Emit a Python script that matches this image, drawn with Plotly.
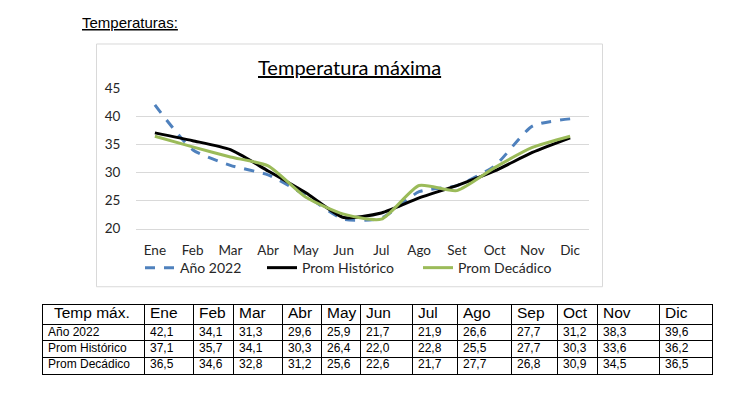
import plotly.graph_objects as go

# ---------------- data ----------------
months_chart = ["Ene", "Feb", "Mar", "Abr", "May", "Jun", "Jul", "Ago", "Set", "Oct", "Nov", "Dic"]
months_table = ["Ene", "Feb", "Mar", "Abr", "May", "Jun", "Jul", "Ago", "Sep", "Oct", "Nov", "Dic"]
ano_2022 = [42.1, 34.1, 31.3, 29.6, 25.9, 21.7, 21.9, 26.6, 27.7, 31.2, 38.3, 39.6]
prom_historico = [37.1, 35.7, 34.1, 30.3, 26.4, 22.0, 22.8, 25.5, 27.7, 30.3, 33.6, 36.2]
prom_decadico = [36.5, 34.6, 32.8, 31.2, 25.6, 22.6, 21.7, 27.7, 26.8, 30.9, 34.5, 36.5]
series_names = ["Año 2022", "Prom Histórico", "Prom Decádico"]
y_ticks = [20, 25, 30, 35, 40, 45]
table_corner = "Temp máx."
chart_title = "Temperatura máxima"
page_heading = "Temperaturas:"

# ---------------- layout constants ----------------
W, H = 739, 396
col_widths = [101, 49, 40, 49, 39, 39, 52, 45, 54, 46, 40, 62, 53]
row_heights = [21, 17, 17, 17]
legend_left_px = [140, 262, 418]


def px_x(p):
    return p / W


def px_y(p):
    return (H - p) / H


chart_font = "Lato, Calibri, Carlito, 'Open Sans', sans-serif"
table_font = "'Liberation Sans', Arial, sans-serif"

fig = go.Figure()

colors = ["#4F81BD", "#000000", "#9BBB59"]
dashes = ["10px,9px", "solid", "solid"]
legend_ids = ["legend", "legend2", "legend3"]
for name, vals, col, dash, lg in zip(series_names, [ano_2022, prom_historico, prom_decadico],
                                     colors, dashes, legend_ids):
    fig.add_trace(go.Scatter(
        x=months_chart, y=vals, name=name, mode="lines",
        line=dict(color=col, width=3, dash=dash, shape="spline", smoothing=0.6),
        xaxis="x", yaxis="y", hoverinfo="skip", legend=lg,
    ))

# ---------------- table via text scatter on its own axes ----------------
col_lefts = [sum(col_widths[:i]) for i in range(len(col_widths))]
row_tops = [sum(row_heights[:i]) for i in range(len(row_heights))]
row_centers = [t + h / 2 for t, h in zip(row_tops, row_heights)]


def fmt(v):
    return f"{v:.1f}".replace(".", ",")


header_text = [table_corner] + months_table
header_x = [col_lefts[0] + 11] + [l + 6 for l in col_lefts[1:]]
fig.add_trace(go.Scatter(
    x=header_x, y=[row_centers[0]] * len(header_text), text=header_text,
    mode="text", textposition="middle right",
    textfont=dict(family=table_font, size=15.5, color="#000"),
    xaxis="x2", yaxis="y2", showlegend=False, hoverinfo="skip", cliponaxis=False,
))
for r, (label, vals) in enumerate(zip(series_names, [ano_2022, prom_historico, prom_decadico])):
    txt = [label] + [fmt(v) for v in vals]
    xs = [col_lefts[0] + 5] + [l + 6 for l in col_lefts[1:]]
    fig.add_trace(go.Scatter(
        x=xs, y=[row_centers[r + 1]] * len(txt), text=txt,
        mode="text", textposition="middle right",
        textfont=dict(family=table_font, size=12, color="#000"),
        xaxis="x2", yaxis="y2", showlegend=False, hoverinfo="skip", cliponaxis=False,
    ))

col_bounds = [sum(col_widths[:i]) for i in range(len(col_widths) + 1)]
row_bounds = [sum(row_heights[:i]) for i in range(len(row_heights) + 1)]

legend_common = dict(
    orientation="h", y=px_y(271), yanchor="middle", xanchor="left",
    font=dict(family=chart_font, size=14, color="#262626"),
    bgcolor="rgba(0,0,0,0)", borderwidth=0,
)

fig.update_layout(
    width=W, height=H, autosize=False,
    margin=dict(l=0, r=0, t=0, b=0),
    paper_bgcolor="white", plot_bgcolor="white",
    showlegend=True,
    legend=dict(x=px_x(legend_left_px[0]), **legend_common),
    legend2=dict(x=px_x(legend_left_px[1]), **legend_common),
    legend3=dict(x=px_x(legend_left_px[2]), **legend_common),
    xaxis=dict(
        domain=[px_x(136), px_x(589)], range=[-0.5, 11.5], type="category",
        showgrid=False, zeroline=False, showline=True, linecolor="#D9D9D9", linewidth=1,
        ticks="", tickfont=dict(family=chart_font, size=13.5, color="#262626"),
        ticklabelstandoff=9, anchor="y",
    ),
    yaxis=dict(
        domain=[px_y(230), px_y(84)], range=[20, 45], tickvals=y_ticks,
        showgrid=True, gridcolor="#D9D9D9", gridwidth=1, zeroline=False, showline=False,
        ticks="outside", ticklen=12, tickcolor="rgba(0,0,0,0)",
        tickfont=dict(family=chart_font, size=13.5, color="#262626"),
        anchor="x",
    ),
    xaxis2=dict(
        domain=[px_x(43), px_x(43 + col_bounds[-1])], range=[0, col_bounds[-1]],
        tickvals=col_bounds, showticklabels=False, ticks="",
        showgrid=True, gridcolor="#000", gridwidth=1, zeroline=False,
        showline=True, mirror=True, linecolor="#000", linewidth=1, anchor="y2",
    ),
    yaxis2=dict(
        domain=[px_y(309 + row_bounds[-1]), px_y(309)], range=[row_bounds[-1], 0],
        tickvals=row_bounds, showticklabels=False, ticks="",
        showgrid=True, gridcolor="#000", gridwidth=1, zeroline=False,
        showline=True, mirror=True, linecolor="#000", linewidth=1, anchor="x2",
    ),
    shapes=[dict(
        type="rect", xref="paper", yref="paper",
        x0=px_x(96.5), x1=px_x(602.5), y0=px_y(290.5), y1=px_y(37.5),
        line=dict(color="#D9D9D9", width=1), fillcolor="rgba(0,0,0,0)", layer="below",
    )],
    annotations=[
        dict(text=f"<u>{chart_title}</u>", xref="paper", yref="paper",
             x=px_x(349), y=px_y(62), xanchor="center", yanchor="middle", showarrow=False,
             font=dict(family=chart_font, size=20, color="#000")),
        dict(text=f"<u>{page_heading}</u>", xref="paper", yref="paper",
             x=px_x(80), y=px_y(15), xanchor="left", yanchor="middle", showarrow=False,
             font=dict(family="'Liberation Sans', Arial, sans-serif", size=15, color="#000")),
    ],
)

fig.write_html(
    "out.html",
    config={"displayModeBar": False, "staticPlot": True},
    post_script="document.body.style.margin='0';document.body.style.overflow='hidden';",
)
